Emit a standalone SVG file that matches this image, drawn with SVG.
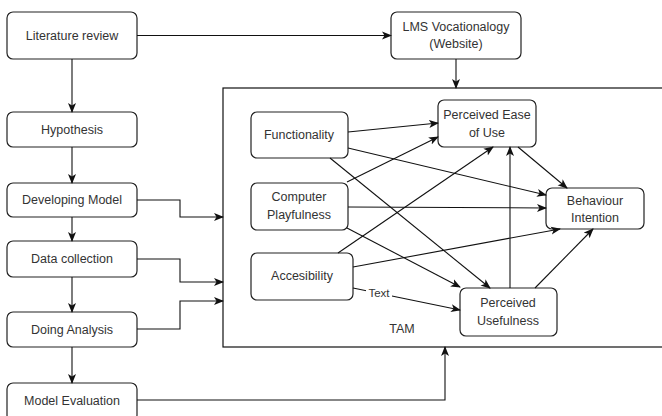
<svg xmlns="http://www.w3.org/2000/svg" width="662" height="416" viewBox="0 0 662 416">
<defs>
<marker id="ah" markerUnits="userSpaceOnUse" markerWidth="10" markerHeight="10" viewBox="0 0 10 10" refX="9" refY="5" orient="auto">
<path d="M0,1 L10,5 L0,9 L2.5,5 Z" fill="#111"/>
</marker>
</defs>
<style>
.box{fill:#fff;stroke:#222;stroke-width:1.2}
.t{font-family:"Liberation Sans",Arial,sans-serif;font-size:12.5px;fill:#333;text-anchor:middle}
.s{font-family:"Liberation Sans",Arial,sans-serif;font-size:11.5px;fill:#333;text-anchor:middle}
.c{fill:none;stroke:#111;stroke-width:1.1;marker-end:url(#ah)}
</style>
<rect width="662" height="416" fill="#fff"/>
<g id="tam">
<rect x="223" y="88" width="460" height="259" fill="#fff" stroke="#111" stroke-width="1.2"/>
<text class="t" x="402" y="333">TAM</text>
</g>
<g id="literature"><rect class="box" x="7" y="12" width="130" height="47" rx="6"/><text class="t" x="72" y="40">Literature review</text></g>
<g id="hypothesis"><rect class="box" x="7" y="112" width="130" height="35" rx="6"/><text class="t" x="72" y="134">Hypothesis</text></g>
<g id="developing"><rect class="box" x="7" y="183" width="130" height="34" rx="6"/><text class="t" x="72" y="204">Developing Model</text></g>
<g id="datacollection"><rect class="box" x="7" y="241" width="130" height="36" rx="6"/><text class="t" x="72" y="263">Data collection</text></g>
<g id="analysis"><rect class="box" x="7" y="312" width="130" height="35" rx="6"/><text class="t" x="72" y="334">Doing Analysis</text></g>
<g id="evaluation"><rect class="box" x="7" y="383" width="130" height="38" rx="6"/><text class="t" x="72" y="405">Model Evaluation</text></g>
<g id="lms"><rect class="box" x="391" y="12" width="130" height="47" rx="6"/><text class="t" x="456" y="31">LMS Vocationalogy</text><text class="t" x="456" y="48">(Website)</text></g>
<g id="functionality"><rect class="box" x="251" y="112" width="97" height="46" rx="6"/><text class="t" x="299" y="139">Functionality</text></g>
<g id="playfulness"><rect class="box" x="251" y="183" width="97" height="47" rx="6"/><text class="t" x="299" y="201">Computer</text><text class="t" x="299" y="219">Playfulness</text></g>
<g id="accesibility"><rect class="box" x="251" y="253" width="102" height="47" rx="6"/><text class="t" x="302" y="280">Accesibility</text></g>
<g id="peou"><rect class="box" x="438" y="100" width="98" height="47" rx="6"/><text class="t" x="487" y="119">Perceived Ease</text><text class="t" x="487" y="137">of Use</text></g>
<g id="bi"><rect class="box" x="546" y="188" width="98" height="41" rx="6"/><text class="t" x="595" y="205">Behaviour</text><text class="t" x="595" y="222">Intention</text></g>
<g id="pu"><rect class="box" x="460" y="288" width="97" height="48" rx="6"/><text class="t" x="508" y="307">Perceived</text><text class="t" x="508" y="325">Usefulness</text></g>
<g id="connectors">
<path class="c" d="M72,59 V112"/>
<path class="c" d="M72,147 V183"/>
<path class="c" d="M72,217 V241"/>
<path class="c" d="M72,277 V312"/>
<path class="c" d="M72,347 V383"/>
<path class="c" d="M137,35.5 H391"/>
<path class="c" d="M456,59 V88"/>
<path class="c" d="M137,200 H180 V217 H223"/>
<path class="c" d="M137,259 H180 V282 H223"/>
<path class="c" d="M137,329 H180 V301 H223"/>
<path class="c" d="M137,400 H445 V347"/>
<path class="c" d="M348,132 L438,123"/>
<path class="c" d="M347,182 L438,137"/>
<path class="c" d="M348,148 L546,195"/>
<path class="c" d="M330,158 L490,288"/>
<path class="c" d="M348,207 L546,208"/>
<path class="c" d="M347,228 L460,287"/>
<path class="c" d="M338,253 L493,147"/>
<path class="c" d="M353,267 L560,229"/>
<path class="c" d="M353,288 L460,310"/>
<path class="c" d="M510,288 V147"/>
<path class="c" d="M518,147 L567,188"/>
<path class="c" d="M535,288 L593,229"/>
<rect x="366" y="286" width="26" height="13" fill="#fff"/>
<text class="s" x="379" y="297">Text</text>
</g>
</svg>
